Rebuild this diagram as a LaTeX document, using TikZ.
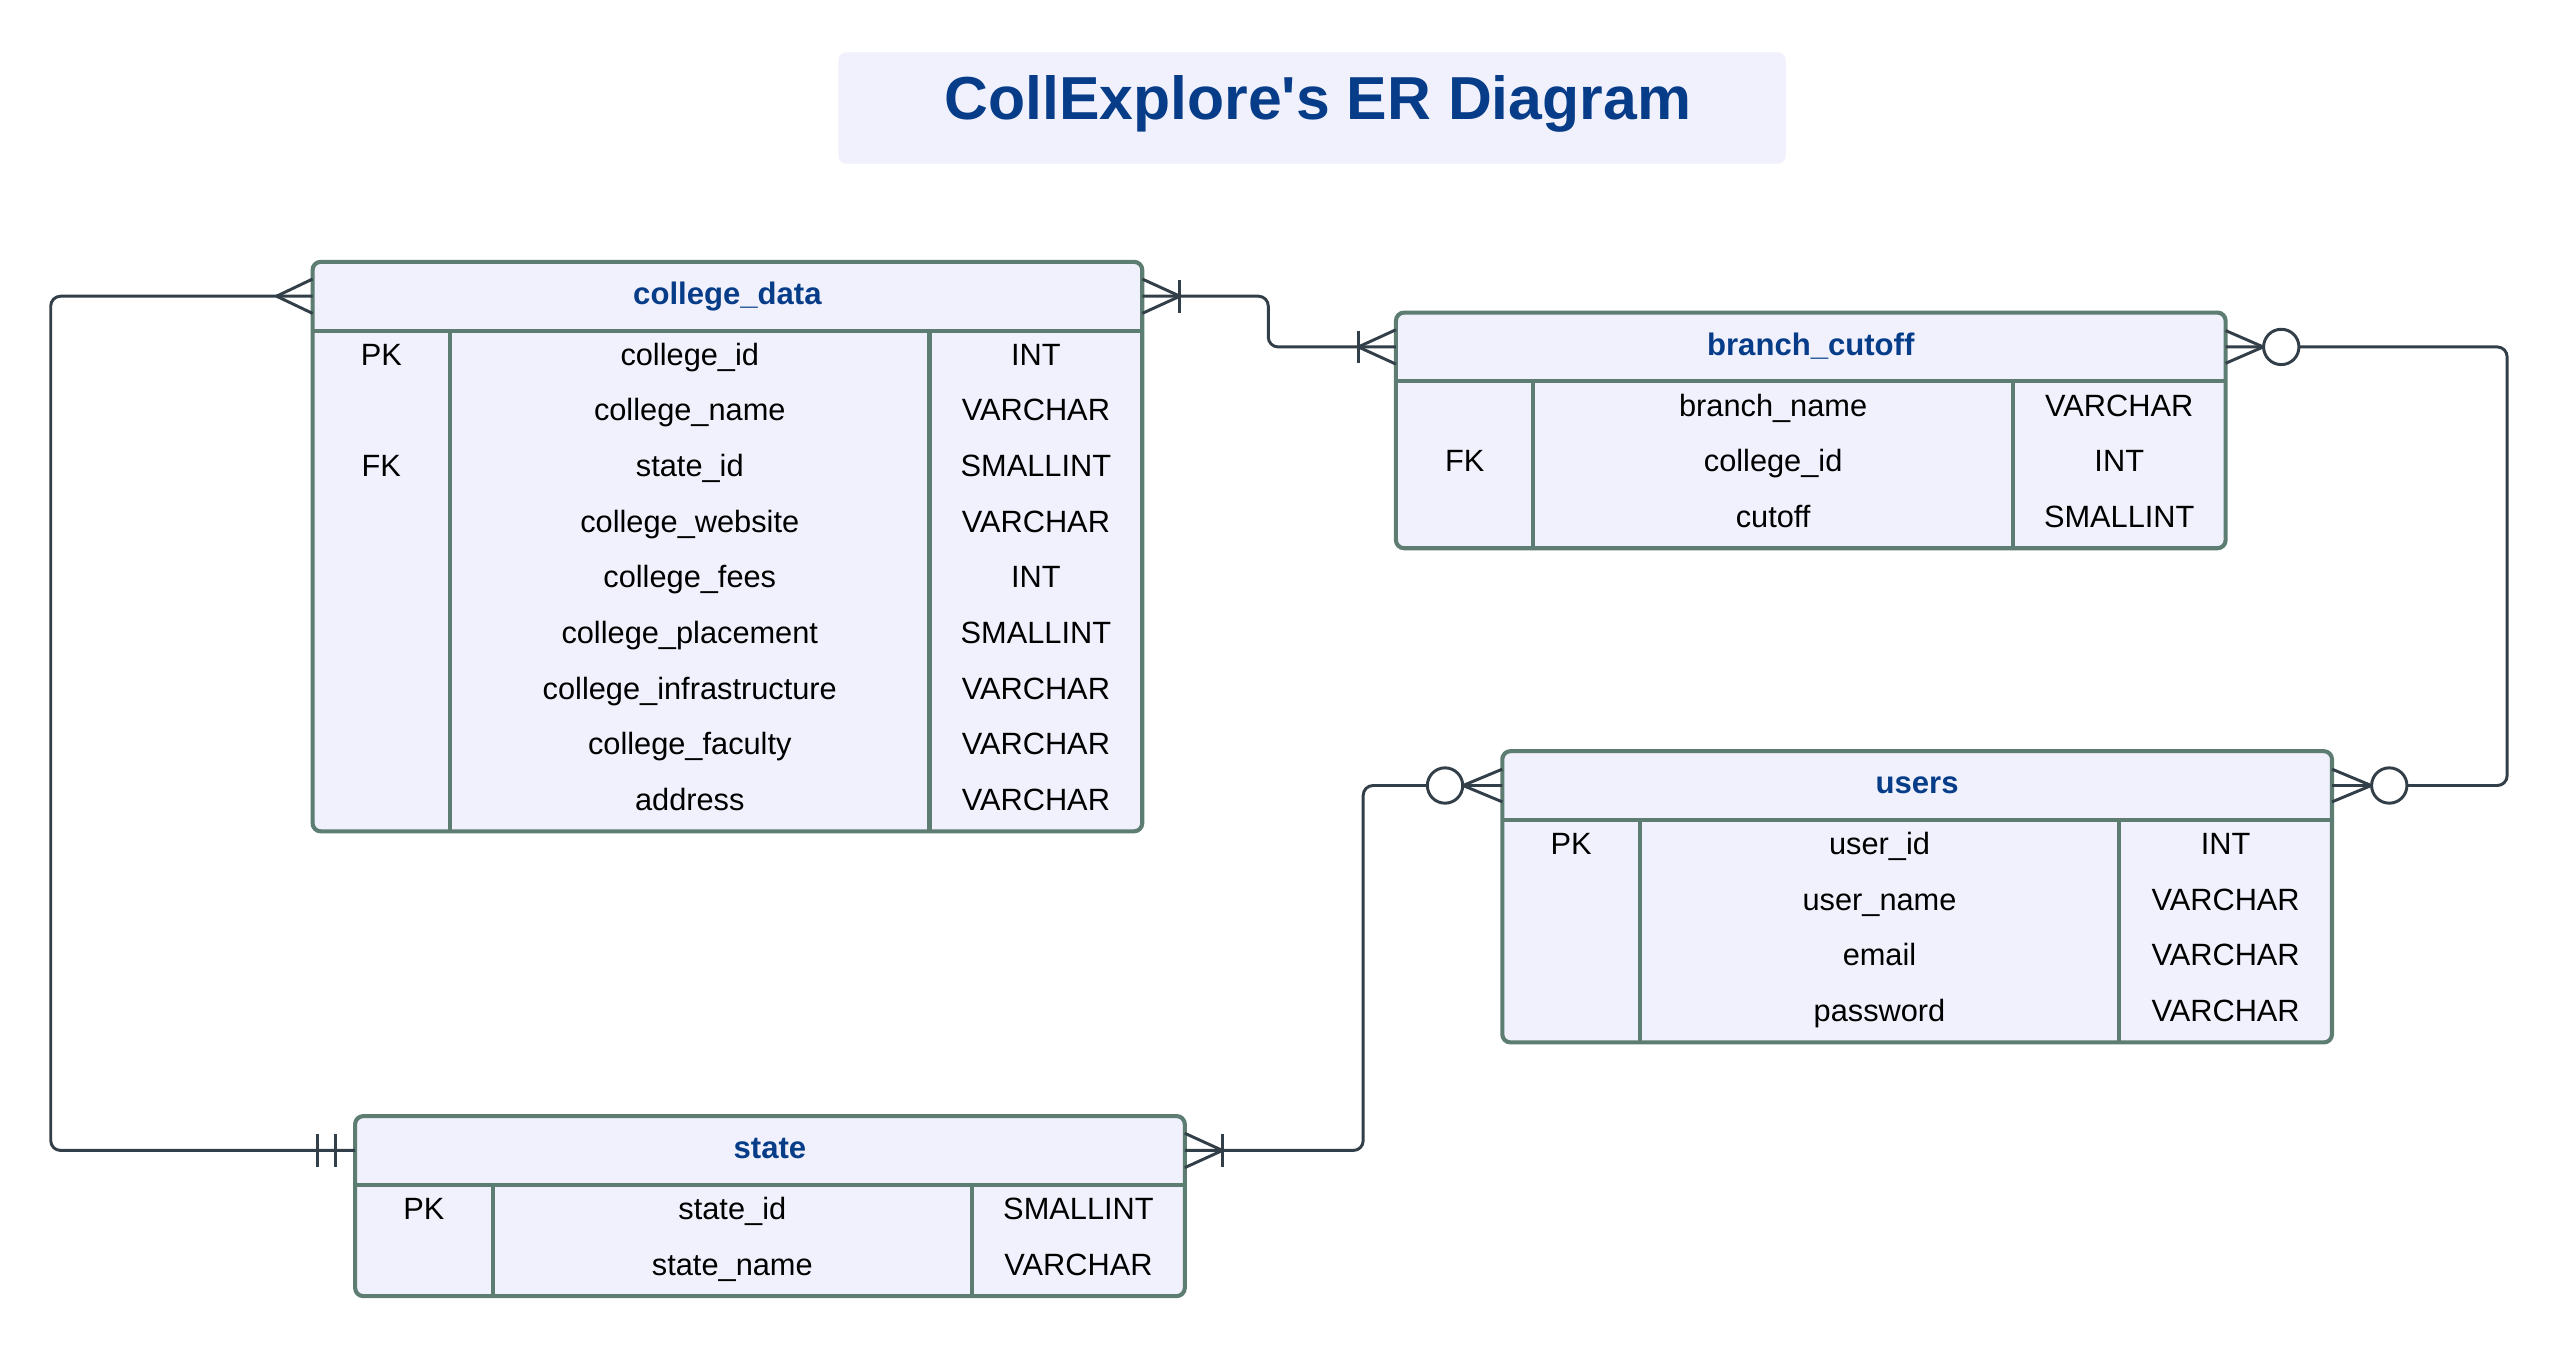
\documentclass[tikz,border=0pt]{standalone}
\usepackage{fontspec}
\setmainfont{Liberation Sans}
\usetikzlibrary{calc}
\definecolor{boxfill}{HTML}{F0F1FC}
\definecolor{boxline}{HTML}{5E7D72}
\definecolor{conncol}{HTML}{333F48}
\definecolor{titleblue}{HTML}{073C88}
\def\nk{}
\tikzset{
  tblbox/.style={draw=boxline, fill=boxfill, line width=2.5pt, rounded corners=5pt},
  tblrule/.style={draw=boxline, line width=2.5pt},
  hdrtext/.style={minimum width=507pt, minimum height=42pt, inner sep=0pt, outer sep=0pt,
    font=\bfseries\fontsize{19}{22}\selectfont, text=titleblue, text height=14pt, text depth=4pt},
  celltext/.style={inner sep=0pt, outer sep=0pt, font=\fontsize{18.8}{22}\selectfont,
    text=black, text height=13pt, text depth=4.5pt},
  titlebox/.style={fill=boxfill, rounded corners=5pt, minimum width=579pt, minimum height=68pt,
    inner sep=0pt, font=\bfseries\fontsize{37.1}{44}\selectfont, text=titleblue,
    text height=27pt, text depth=13pt},
  conn/.style={draw=conncol, line width=1.8pt, rounded corners=6pt},
  foot/.style={draw=conncol, line width=1.8pt, sharp corners, line join=round},
  ring/.style={draw=conncol, line width=1.8pt, fill=white},
}
% #1 name, #2 x, #3 y, #4 title, #5 rows, #6 list key/name/type
\newcommand\ertable[6]{%
  \pgfmathsetmacro\tblH{42+34*#5}
  \draw[tblbox] (#2,#3) rectangle ++(507,\tblH);
  \draw[tblrule] (#2,#3+42) -- ++(507,0);
  \draw[tblrule] (#2+84,#3+42) -- (#2+84,#3+\tblH);
  \draw[tblrule] (#2+377,#3+42) -- (#2+377,#3+\tblH);
  \node[hdrtext] (#1) at (#2+253.5,#3+21) {#4};
  \foreach \k/\n/\t [count=\i] in {#6} {
    \node[celltext] (#1-k\i) at (#2+42,#3+42+34*\i-17) {\k};
    \node[celltext] (#1-n\i) at (#2+230.5,#3+42+34*\i-17) {\n};
    \node[celltext] (#1-t\i) at (#2+442,#3+42+34*\i-17) {\t};
  }
}
\begin{document}
\begin{tikzpicture}[x=1pt,y=-1pt]
\useasboundingbox (0,0) rectangle (1568,835);

\node[titlebox] (title) at (801.75,66) {\hspace*{7pt}CollExplore\textquotesingle s ER Diagram};

\ertable{cd}{191}{160}{college\_data}{9}{PK/college\_id/INT, \nk/college\_name/VARCHAR,
  FK/state\_id/SMALLINT, \nk/college\_website/VARCHAR, \nk/college\_fees/INT,
  \nk/college\_placement/SMALLINT, \nk/college\_infrastructure/VARCHAR,
  \nk/college\_faculty/VARCHAR, \nk/address/VARCHAR}
\ertable{bc}{853}{191}{branch\_cutoff}{3}{\nk/branch\_name/VARCHAR, FK/college\_id/INT,
  \nk/cutoff/SMALLINT}
\ertable{us}{918}{459}{users}{4}{PK/user\_id/INT, \nk/user\_name/VARCHAR,
  \nk/email/VARCHAR, \nk/password/VARCHAR}
\ertable{st}{217}{682}{state}{2}{PK/state\_id/SMALLINT, \nk/state\_name/VARCHAR}

% college_data (many) -- state (one and only one)
\draw[conn] (cd.west) -- ++(-160,0) |- (st.west);
\draw[foot] ($(cd.west)+(0,-10.5)$) -- ($(cd.west)+(-22,0)$) -- ($(cd.west)+(0,10.5)$);
\draw[foot] ($(st.west)+(-23,-10)$) -- ($(st.west)+(-23,10)$);
\draw[foot] ($(st.west)+(-12,-10)$) -- ($(st.west)+(-12,10)$);

% college_data (one or many) -- branch_cutoff (one or many)
\draw[conn] (cd.east) -- ++(77,0) |- (bc.west);
\draw[foot] ($(cd.east)+(0,-10.5)$) -- ($(cd.east)+(23,0)$) -- ($(cd.east)+(0,10.5)$);
\draw[foot] ($(cd.east)+(23,-10)$) -- ($(cd.east)+(23,10)$);
\draw[foot] ($(bc.west)+(0,-10.5)$) -- ($(bc.west)+(-23,0)$) -- ($(bc.west)+(0,10.5)$);
\draw[foot] ($(bc.west)+(-23,-10)$) -- ($(bc.west)+(-23,10)$);

% branch_cutoff (zero or many) -- users (zero or many)
\draw[conn] (bc.east) -- ++(172,0) |- (us.east);
\draw[foot] ($(bc.east)+(0,-10)$) -- ($(bc.east)+(23,0)$) -- ($(bc.east)+(0,10)$);
\draw[ring] ($(bc.east)+(34,0)$) circle[radius=10.8pt];
\draw[foot] ($(us.east)+(0,-10)$) -- ($(us.east)+(24,0)$) -- ($(us.east)+(0,10)$);
\draw[ring] ($(us.east)+(35,0)$) circle[radius=10.8pt];

% users (zero or many) -- state (one or many)
\draw[conn] (us.west) -- ++(-85,0) |- (st.east);
\draw[foot] ($(us.west)+(0,-10)$) -- ($(us.west)+(-24,0)$) -- ($(us.west)+(0,10)$);
\draw[ring] ($(us.west)+(-35,0)$) circle[radius=10.8pt];
\draw[foot] ($(st.east)+(0,-10.5)$) -- ($(st.east)+(23,0)$) -- ($(st.east)+(0,10.5)$);
\draw[foot] ($(st.east)+(23,-10)$) -- ($(st.east)+(23,10)$);
\end{tikzpicture}
\end{document}
